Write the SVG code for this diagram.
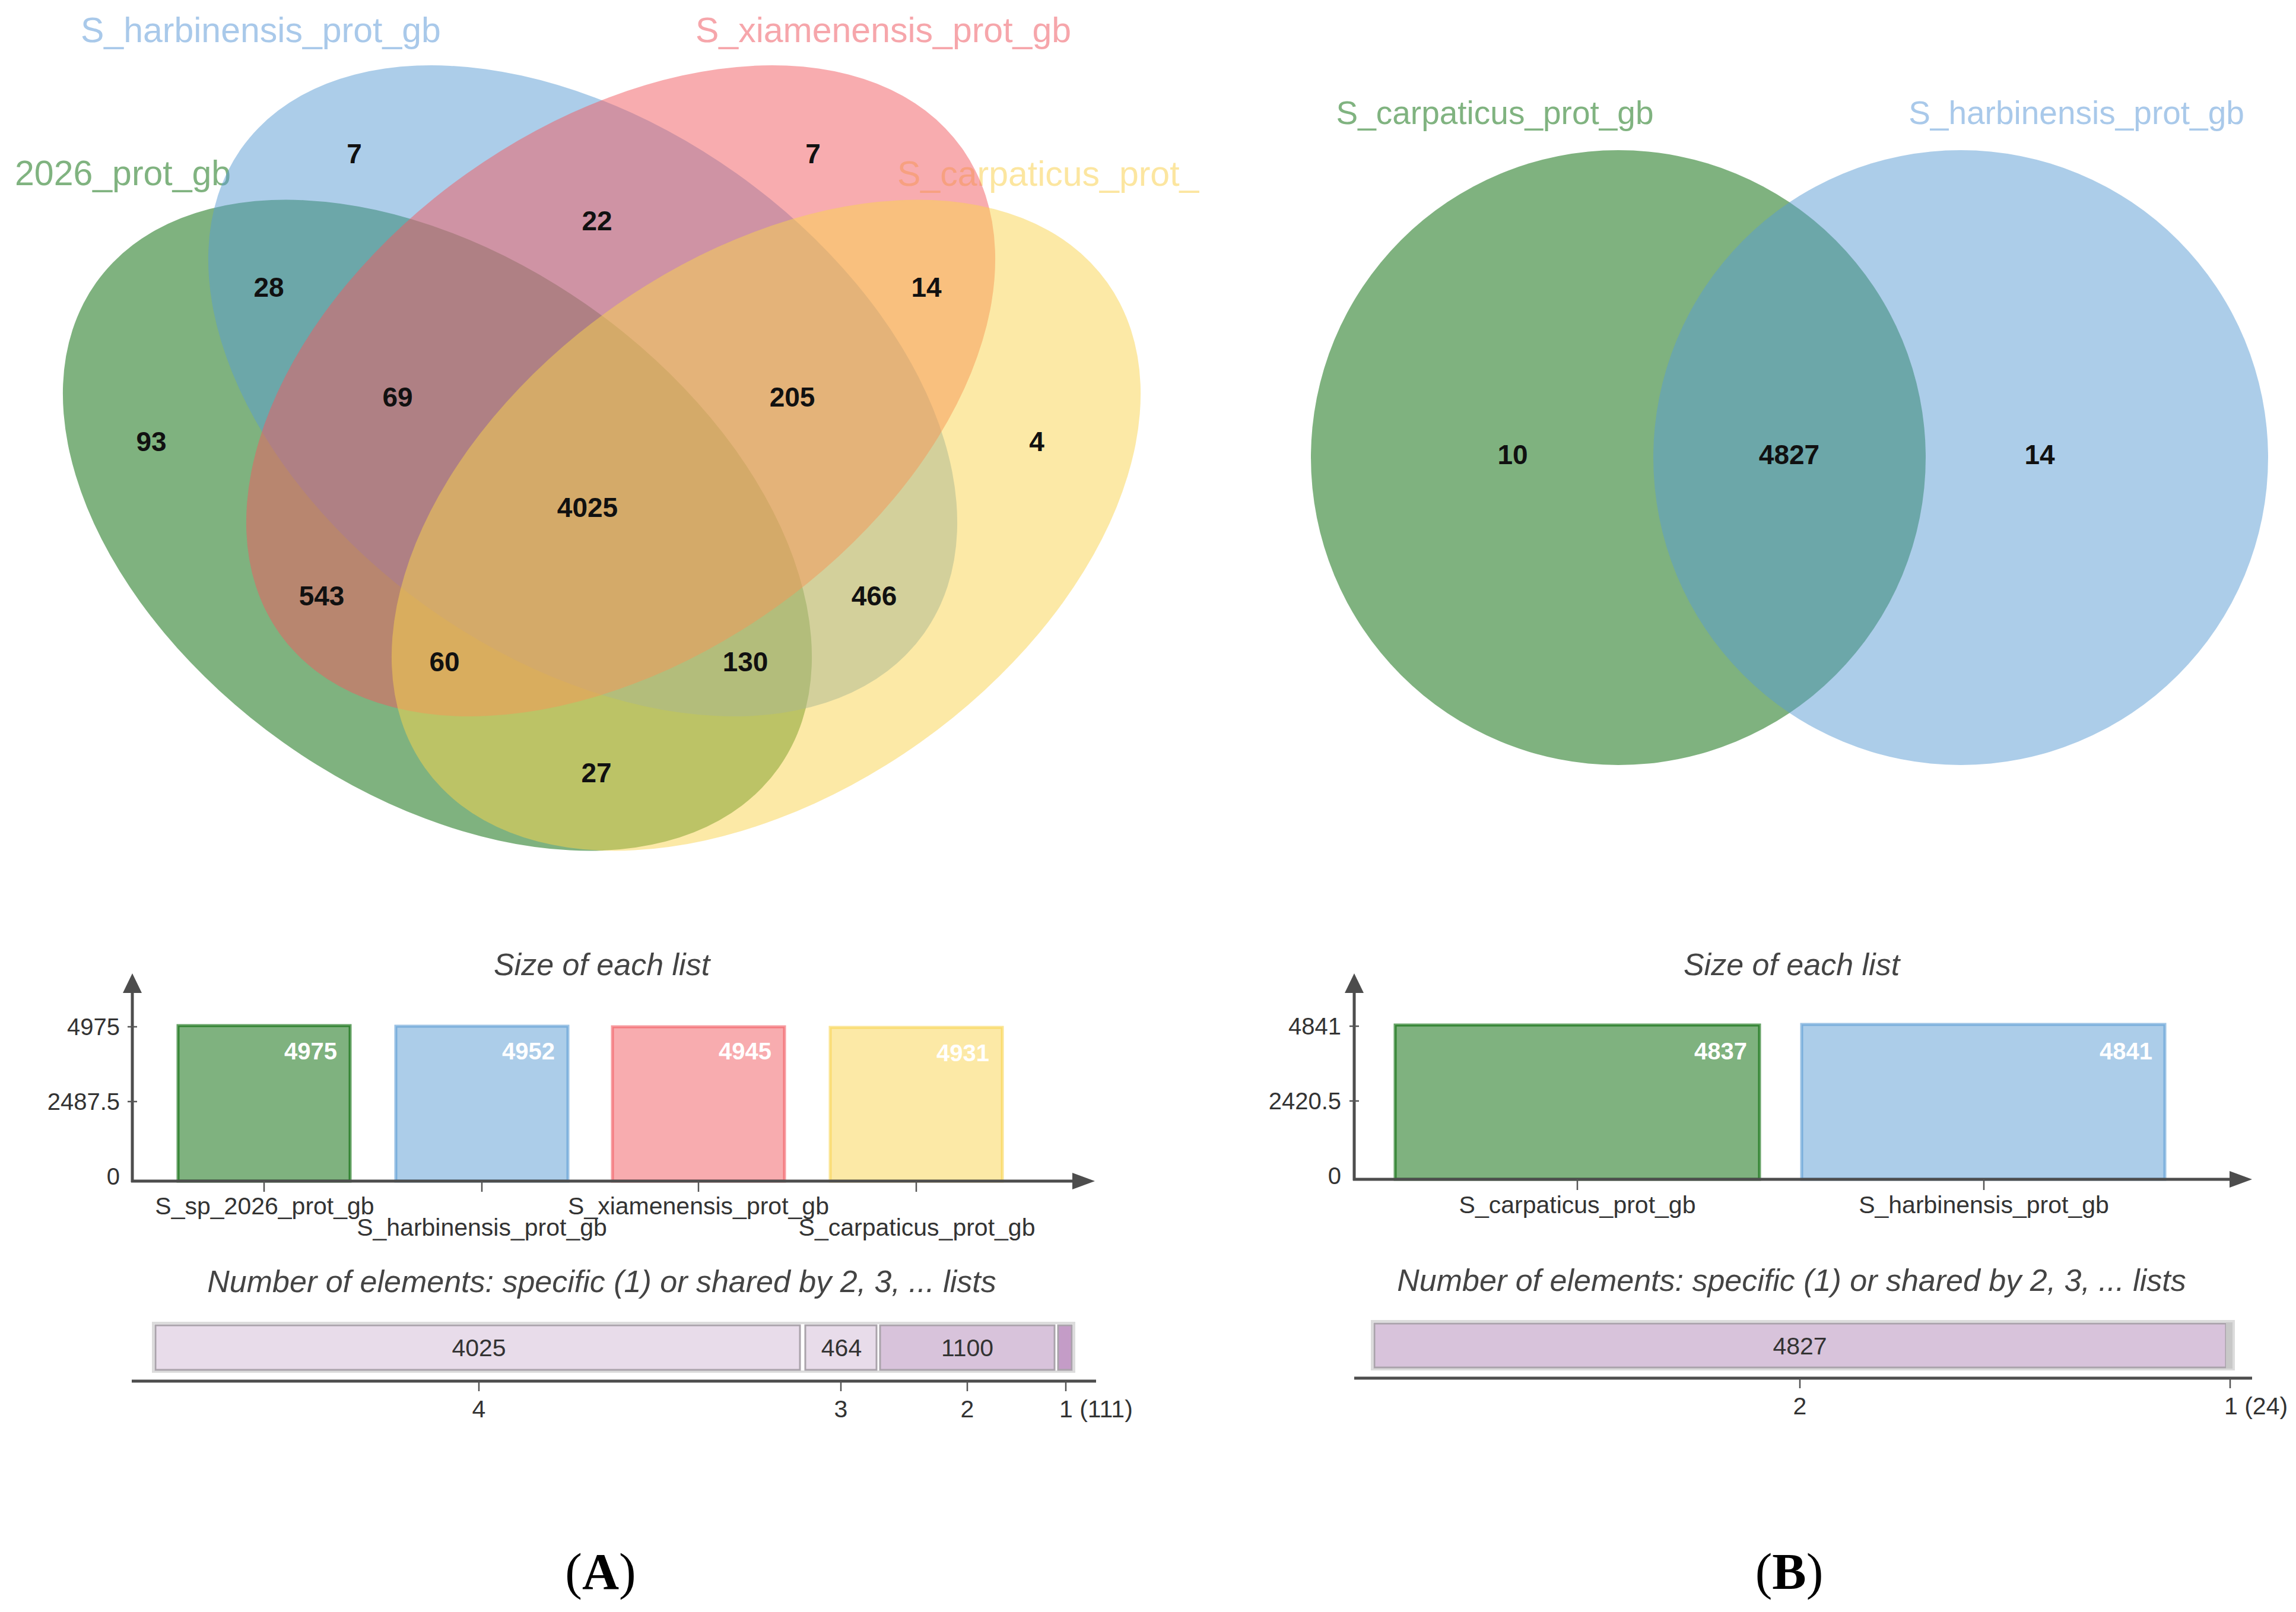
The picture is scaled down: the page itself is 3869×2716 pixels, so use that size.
<svg xmlns="http://www.w3.org/2000/svg" width="3869" height="2716" viewBox="0 0 3869 2716">
<style>
text{font-family:"Liberation Sans",Arial,sans-serif}
.vlab{font-size:59px}
.vlabB{font-size:55px}
.vnum{font-weight:bold;font-size:46px;fill:#111;text-anchor:middle}
.ttl{font-style:italic;font-size:52px;fill:#444;text-anchor:middle}
.ax{stroke:#4d4d4d;stroke-width:5;fill:none}
.tk{stroke:#555;stroke-width:2.5}
.tl{font-size:41px;fill:#333}
.tlm{font-size:41px;fill:#333;text-anchor:middle}
.tle{font-size:40px;fill:#333;text-anchor:end}
.bval{font-size:40px;font-weight:bold;fill:#fff;text-anchor:end}
.arr{fill:#4d4d4d}
.seg{stroke:#aaa3ab;stroke-width:3}
.frame{fill:none;stroke:#dcdcdc;stroke-width:4}
.green{fill:#006600;fill-opacity:0.5}
.blue{fill:#5a9bd4;fill-opacity:0.5}
.pink{fill:#f15a60;fill-opacity:0.5}
.yellow{fill:#f9d34d;fill-opacity:0.5}
.cap{font-family:"Liberation Serif","Times New Roman",serif;font-size:86px;fill:#000;text-anchor:middle}
</style>
<rect width="3869" height="2716" fill="#fff"/>

<!-- Panel A Venn -->
<g id="venn-A">
  <g id="venn-A-labels">
    <text class="vlab" x="136" y="71" fill="#a9c9ea">S_harbinensis_prot_gb</text>
    <text class="vlab" x="1172" y="71" fill="#f6a6ab">S_xiamenensis_prot_gb</text>
    <text class="vlab" x="25" y="312" fill="#80b380">2026_prot_gb</text>
    <text class="vlab" x="1512" y="313" fill="#fce6a0">S_carpaticus_prot_</text>
  </g>
  <g id="set-A-2026"><ellipse class="green" cx="0" cy="0" rx="705.5" ry="448.7" transform="translate(737 885) rotate(35.4)"/></g>
  <g id="set-A-harbinensis"><ellipse class="blue" cx="0" cy="0" rx="705.5" ry="448.7" transform="translate(982 658.5) rotate(35.4)"/></g>
  <g id="set-A-xiamenensis"><ellipse class="pink" cx="0" cy="0" rx="705.5" ry="448.7" transform="translate(1046 658.5) rotate(-35.4)"/></g>
  <g id="set-A-carpaticus"><ellipse class="yellow" cx="0" cy="0" rx="705.5" ry="448.7" transform="translate(1291 885) rotate(-35.4)"/></g>
  <g id="venn-A-counts">
    <text class="vnum" x="597" y="275">7</text>
    <text class="vnum" x="1370" y="275">7</text>
    <text class="vnum" x="1006" y="388">22</text>
    <text class="vnum" x="453" y="500">28</text>
    <text class="vnum" x="1561" y="500">14</text>
    <text class="vnum" x="670" y="685">69</text>
    <text class="vnum" x="1335" y="685">205</text>
    <text class="vnum" x="255" y="760">93</text>
    <text class="vnum" x="1747" y="760">4</text>
    <text class="vnum" x="990" y="871">4025</text>
    <text class="vnum" x="542" y="1020">543</text>
    <text class="vnum" x="1473" y="1020">466</text>
    <text class="vnum" x="749" y="1131">60</text>
    <text class="vnum" x="1256" y="1131">130</text>
    <text class="vnum" x="1005" y="1318">27</text>
  </g>
</g>

<!-- Panel B Venn -->
<g id="venn-B">
  <text class="vlabB" x="2519" y="209" text-anchor="middle" fill="#80b380">S_carpaticus_prot_gb</text>
  <text class="vlabB" x="3499" y="209" text-anchor="middle" fill="#a9c9ea">S_harbinensis_prot_gb</text>
  <g id="set-B-carpaticus"><circle class="green" cx="2727" cy="771" r="518"/></g>
  <g id="set-B-harbinensis"><circle class="blue" cx="3304" cy="771" r="518"/></g>
  <text class="vnum" x="2549" y="782">10</text>
  <text class="vnum" x="3015" y="782">4827</text>
  <text class="vnum" x="3437" y="782">14</text>
</g>

<!-- Panel A size bar chart -->
<g id="bars-A">
  <text class="ttl" x="1014" y="1643">Size of each list</text>
  <g id="bar-A-2026"><rect x="300" y="1728" width="290" height="262" fill="#006600" fill-opacity="0.5" stroke="#006600" stroke-opacity="0.6" stroke-width="5"/><text class="bval" x="568" y="1785">4975</text></g>
  <g id="bar-A-harbinensis"><rect x="667" y="1729" width="290" height="261" fill="#5a9bd4" fill-opacity="0.5" stroke="#5a9bd4" stroke-opacity="0.6" stroke-width="5"/><text class="bval" x="935" y="1785">4952</text></g>
  <g id="bar-A-xiamenensis"><rect x="1032" y="1730" width="290" height="260" fill="#f15a60" fill-opacity="0.5" stroke="#f15a60" stroke-opacity="0.6" stroke-width="5"/><text class="bval" x="1300" y="1785">4945</text></g>
  <g id="bar-A-carpaticus"><rect x="1399" y="1731" width="290" height="259" fill="#f9d34d" fill-opacity="0.5" stroke="#f9d34d" stroke-opacity="0.6" stroke-width="5"/><text class="bval" x="1667" y="1788">4931</text></g>
  <g id="axes-A">
    <line class="ax" x1="223" y1="1992" x2="223" y2="1670"/>
    <polygon class="arr" points="223,1640 207,1673 239,1673"/>
    <line class="ax" x1="221" y1="1990" x2="1810" y2="1990"/>
    <polygon class="arr" points="1845,1990 1807,1976 1807,2004"/>
    <line class="tk" x1="215" y1="1730" x2="231" y2="1730"/>
    <line class="tk" x1="215" y1="1856" x2="231" y2="1856"/>
    <line class="tk" x1="445" y1="1990" x2="445" y2="2008"/>
    <line class="tk" x1="812" y1="1990" x2="812" y2="2008"/>
    <line class="tk" x1="1177" y1="1990" x2="1177" y2="2008"/>
    <line class="tk" x1="1544" y1="1990" x2="1544" y2="2008"/>
  </g>
  <text class="tle" x="202" y="1744">4975</text>
  <text class="tle" x="202" y="1870">2487.5</text>
  <text class="tle" x="202" y="1996">0</text>
  <text class="tlm" x="446" y="2046">S_sp_2026_prot_gb</text>
  <text class="tlm" x="812" y="2082">S_harbinensis_prot_gb</text>
  <text class="tlm" x="1177" y="2046">S_xiamenensis_prot_gb</text>
  <text class="tlm" x="1545" y="2082">S_carpaticus_prot_gb</text>
</g>

<!-- Panel A shared bar -->
<g id="shared-A">
  <text class="ttl" x="1014" y="2177">Number of elements: specific (1) or shared by 2, 3, ... lists</text>
  <rect class="frame" x="258" y="2229" width="1552" height="82"/>
  <g id="seg-A-4"><rect class="seg" x="262" y="2233" width="1086" height="75" fill="#e8dcea"/><text class="tlm" x="807" y="2285">4025</text></g>
  <g id="seg-A-3"><rect class="seg" x="1357" y="2233" width="120" height="75" fill="#e8dcea"/><text class="tlm" x="1418" y="2285">464</text></g>
  <g id="seg-A-2"><rect class="seg" x="1483" y="2233" width="294" height="75" fill="#d8c3db"/><text class="tlm" x="1630" y="2285">1100</text></g>
  <g id="seg-A-1"><rect class="seg" x="1783" y="2233" width="23" height="75" fill="#c49cc7"/></g>
  <g id="axis-A2">
    <line class="ax" x1="222" y1="2327" x2="1847" y2="2327"/>
    <line class="tk" x1="807" y1="2327" x2="807" y2="2344"/>
    <line class="tk" x1="1417" y1="2327" x2="1417" y2="2344"/>
    <line class="tk" x1="1630" y1="2327" x2="1630" y2="2344"/>
    <line class="tk" x1="1796" y1="2327" x2="1796" y2="2344"/>
  </g>
  <text class="tlm" x="807" y="2388">4</text>
  <text class="tlm" x="1417" y="2388">3</text>
  <text class="tlm" x="1630" y="2388">2</text>
  <text class="tl" x="1785" y="2388">1 (111)</text>
</g>

<!-- Panel B size bar chart -->
<g id="bars-B">
  <text class="ttl" x="3019" y="1643">Size of each list</text>
  <g id="bar-B-carpaticus"><rect x="2351" y="1727" width="614" height="260" fill="#006600" fill-opacity="0.5" stroke="#006600" stroke-opacity="0.6" stroke-width="5"/><text class="bval" x="2944" y="1785">4837</text></g>
  <g id="bar-B-harbinensis"><rect x="3036" y="1726" width="612" height="261" fill="#5a9bd4" fill-opacity="0.5" stroke="#5a9bd4" stroke-opacity="0.6" stroke-width="5"/><text class="bval" x="3627" y="1785">4841</text></g>
  <g id="axes-B">
    <line class="ax" x1="2282" y1="1989" x2="2282" y2="1670"/>
    <polygon class="arr" points="2282,1640 2266,1673 2298,1673"/>
    <line class="ax" x1="2280" y1="1987" x2="3760" y2="1987"/>
    <polygon class="arr" points="3795,1987 3757,1973 3757,2001"/>
    <line class="tk" x1="2274" y1="1729" x2="2290" y2="1729"/>
    <line class="tk" x1="2274" y1="1855" x2="2290" y2="1855"/>
    <line class="tk" x1="2658" y1="1987" x2="2658" y2="2005"/>
    <line class="tk" x1="3343" y1="1987" x2="3343" y2="2005"/>
  </g>
  <text class="tle" x="2260" y="1743">4841</text>
  <text class="tle" x="2260" y="1869">2420.5</text>
  <text class="tle" x="2260" y="1995">0</text>
  <text class="tlm" x="2658" y="2044">S_carpaticus_prot_gb</text>
  <text class="tlm" x="3343" y="2044">S_harbinensis_prot_gb</text>
</g>

<!-- Panel B shared bar -->
<g id="shared-B">
  <text class="ttl" x="3019" y="2175">Number of elements: specific (1) or shared by 2, 3, ... lists</text>
  <rect class="frame" x="2312" y="2226" width="1452" height="81"/>
  <g id="seg-B-2"><rect class="seg" x="2316" y="2230" width="1435" height="74" fill="#d8c3db"/><text class="tlm" x="3033" y="2282">4827</text></g>
  <g id="seg-B-1"><rect x="3751" y="2228" width="11" height="78" fill="#c8c8c8"/></g>
  <g id="axis-B2">
    <line class="ax" x1="2282" y1="2322" x2="3795" y2="2322"/>
    <line class="tk" x1="3033" y1="2322" x2="3033" y2="2339"/>
    <line class="tk" x1="3758" y1="2322" x2="3758" y2="2339"/>
  </g>
  <text class="tlm" x="3033" y="2383">2</text>
  <text class="tl" x="3748" y="2383">1 (24)</text>
</g>

<!-- Panel captions -->
<text class="cap" x="1012" y="2677">(<tspan font-weight="bold">A</tspan>)</text>
<text class="cap" x="3015" y="2677">(<tspan font-weight="bold">B</tspan>)</text>
</svg>
